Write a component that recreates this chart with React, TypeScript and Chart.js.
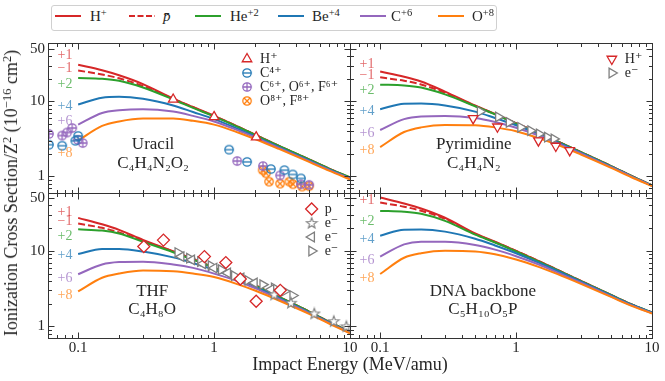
import React, { useEffect, useRef } from 'react';
import { Chart, registerables } from 'chart.js';
import { drawPoint } from 'chart.js/helpers';

Chart.register(...registerables);

const FONT = "'Liberation Serif', 'DejaVu Serif', serif";
const TEXT = '#262626';

// ---------------- data ----------------
// Impact energies (MeV/amu) at which the model curves are sampled
const energies = [0.1, 0.15, 0.2, 0.3, 0.5, 0.7, 1, 1.5, 2, 3, 5, 7, 10];

const legendBase = ['H', 'p̄', 'He', 'Be', 'C', 'O'];
const legendSup = ['+', '', '+2', '+4', '+6', '+8'];
const seriesColors = ['#d62728', '#d62728', '#2ca02c', '#1f77b4', '#9467bd', '#ff7f0e'];
const chargeLabels = ['+1', '−1', '+2', '+4', '+6', '+8'];

const xTickValues = [0.1, 1, 10];
const yTickValues = [1, 10, 50];

// Uracil
const uracilHp = [30.7, 26.0, 22.3, 17.0, 10.9, 8.4, 6.4, 4.6, 3.6, 2.55, 1.68, 1.27, 0.96];
const uracilPbar = [25.8, 22.8, 20.3, 16.0, 10.8, 8.35, 6.4, 4.6, 3.6, 2.55, 1.68, 1.27, 0.96];
const uracilHe = [20.5, 20.0, 18.8, 15.3, 10.6, 8.2, 6.3, 4.55, 3.58, 2.55, 1.68, 1.27, 0.97];
const uracilBe = [9.1, 11.2, 11.5, 10.8, 8.8, 7.2, 5.8, 4.3, 3.42, 2.45, 1.63, 1.24, 0.94];
const uracilC = [4.9, 7.0, 7.6, 7.85, 7.3, 6.4, 5.4, 4.1, 3.3, 2.4, 1.6, 1.22, 0.93];
const uracilO = [3.0, 4.7, 5.4, 5.9, 5.9, 5.5, 4.9, 3.85, 3.15, 2.32, 1.56, 1.19, 0.91];

const uracilExpHpE = [0.5, 1.0, 2.04];
const uracilExpHpV = [10.6, 6.2, 3.33];
const uracilExpC4E = [0.061, 0.0763, 0.0953, 0.1, 1.29, 1.75, 2.62, 3.29, 3.79, 4.36];
const uracilExpC4V = [2.64, 2.56, 2.98, 3.46, 2.27, 1.56, 1.25, 1.21, 1.06, 0.94];
const uracilExpC6E = [0.061, 0.0763, 0.083, 0.0904, 0.0995, 0.108, 1.48, 2.29, 3.06, 4.36, 5.0];
const uracilExpC6V = [3.68, 3.5, 3.85, 4.41, 3.07, 2.78, 1.6, 1.37, 1.03, 0.785, 0.77];
const uracilExpO8E = [2.28, 2.41, 2.54, 3.06, 3.58, 3.81, 4.44, 5.0];
const uracilExpO8V = [1.21, 1.1, 0.85, 0.8, 0.85, 0.785, 0.73, 0.74];

// Pyrimidine
const pyrHp = [25.0, 21.3, 18.4, 13.5, 8.8, 6.8, 5.1, 3.75, 2.95, 2.1, 1.37, 1.02, 0.76];
const pyrPbar = [20.9, 18.8, 16.8, 13.0, 8.7, 6.75, 5.1, 3.75, 2.95, 2.1, 1.37, 1.02, 0.76];
const pyrHe = [16.7, 16.3, 15.3, 12.4, 8.6, 6.7, 5.05, 3.72, 2.94, 2.1, 1.37, 1.02, 0.76];
const pyrBe = [7.85, 9.3, 9.35, 8.8, 7.3, 6.0, 4.8, 3.6, 2.87, 2.06, 1.35, 1.01, 0.75];
const pyrC = [4.15, 5.8, 6.3, 6.4, 6.0, 5.3, 4.45, 3.45, 2.78, 2.02, 1.33, 1.0, 0.75];
const pyrO = [2.46, 3.9, 4.5, 4.85, 4.8, 4.5, 4.0, 3.2, 2.65, 1.95, 1.3, 0.98, 0.74];

const pyrExpHpE = [0.483, 0.729, 1.46, 1.96, 2.48];
const pyrExpHpV = [5.92, 4.59, 3.0, 2.54, 2.22];
const pyrExpElE = [0.544, 0.741, 0.888, 1.08, 1.28, 1.48, 1.7, 1.9];
const pyrExpElV = [7.32, 6.21, 5.25, 4.51, 4.07, 3.68, 3.33, 3.16];

// THF
const thfHp = [27.4, 22.5, 19.0, 14.0, 9.9, 7.8, 6.0, 4.4, 3.5, 2.45, 1.57, 1.15, 0.84];
const thfPbar = [23.1, 20.2, 17.6, 13.6, 9.8, 7.75, 6.0, 4.4, 3.5, 2.45, 1.57, 1.15, 0.84];
const thfHe = [19.3, 18.6, 17.0, 13.2, 9.6, 7.65, 5.95, 4.38, 3.48, 2.45, 1.57, 1.15, 0.84];
const thfBe = [9.1, 10.6, 10.6, 9.8, 8.2, 6.9, 5.6, 4.2, 3.35, 2.38, 1.53, 1.13, 0.83];
const thfC = [4.9, 6.6, 7.1, 7.2, 6.6, 5.95, 5.0, 3.95, 3.2, 2.3, 1.5, 1.11, 0.82];
const thfO = [2.9, 4.4, 5.0, 5.5, 5.35, 5.0, 4.5, 3.6, 2.98, 2.2, 1.46, 1.09, 0.81];

const thfExpPE = [0.304, 0.424, 0.849, 1.22, 1.56, 2.04, 3.07];
const thfExpPV = [11.4, 13.9, 8.4, 7.0, 4.24, 2.15, 3.0];
const thfExpStarE = [2.77, 3.68, 5.46, 7.6, 9.4];
const thfExpStarV = [2.64, 2.05, 1.48, 1.17, 1.0];
const thfExpLeftE = [0.572, 0.685, 0.826, 1.0, 1.26, 1.58, 1.98, 2.62];
const thfExpLeftV = [8.4, 7.6, 6.74, 5.92, 5.09, 4.37, 3.76, 3.07];
const thfExpRightE = [0.541, 0.659, 0.794, 0.95, 1.13, 1.41, 1.77, 2.28, 2.77, 3.29, 3.79];
const thfExpRightV = [9.5, 8.0, 7.2, 6.35, 5.62, 4.69, 4.06, 3.57, 3.23, 2.92, 2.56];

// DNA backbone
const dnaHp = [50.9, 42.5, 36.5, 27.5, 17.0, 13.2, 10.0, 7.2, 5.65, 4.0, 2.6, 1.97, 1.52];
const dnaPbar = [43.7, 38.5, 34.0, 26.5, 16.8, 13.1, 10.0, 7.2, 5.65, 4.0, 2.6, 1.97, 1.52];
const dnaHe = [33.9, 33.0, 31.0, 25.0, 16.4, 12.9, 9.8, 7.1, 5.6, 3.98, 2.6, 1.97, 1.53];
const dnaBe = [15.9, 19.1, 19.2, 18.0, 14.5, 11.8, 9.3, 6.85, 5.45, 3.9, 2.56, 1.95, 1.52];
const dnaC = [8.4, 12.2, 13.2, 13.2, 12.0, 10.4, 8.5, 6.5, 5.2, 3.78, 2.5, 1.91, 1.5];
const dnaO = [4.93, 8.1, 9.3, 10.0, 9.8, 9.0, 7.7, 6.05, 4.95, 3.65, 2.45, 1.88, 1.48];

// ---------------- marker glyphs ----------------
function circleGlyph(color: string, kind: 'minus' | 'plus' | 'x') {
  const s = 12;
  const c = document.createElement('canvas');
  c.width = s; c.height = s;
  const g = c.getContext('2d')!;
  const r = 4.2, cx = 6, cy = 6;
  g.strokeStyle = color; g.lineWidth = 1.3;
  g.beginPath(); g.arc(cx, cy, r, 0, Math.PI * 2); g.stroke();
  g.beginPath();
  if (kind === 'minus' || kind === 'plus') { g.moveTo(cx - r, cy); g.lineTo(cx + r, cy); }
  if (kind === 'plus') { g.moveTo(cx, cy - r); g.lineTo(cx, cy + r); }
  if (kind === 'x') {
    const d = r * Math.SQRT1_2;
    g.moveTo(cx - d, cy - d); g.lineTo(cx + d, cy + d);
    g.moveTo(cx - d, cy + d); g.lineTo(cx + d, cy - d);
  }
  g.stroke();
  return c;
}
function starGlyph(color: string) {
  const s = 14;
  const c = document.createElement('canvas');
  c.width = s; c.height = s;
  const g = c.getContext('2d')!;
  const cx = 7, cy = 7.4, ro = 5.6, ri = 2.3;
  g.beginPath();
  for (let k = 0; k < 10; k++) {
    const r = k % 2 === 0 ? ro : ri;
    const a = -Math.PI / 2 + (k * Math.PI) / 5;
    const px = cx + r * Math.cos(a), py = cy + r * Math.sin(a);
    if (k === 0) g.moveTo(px, py); else g.lineTo(px, py);
  }
  g.closePath();
  g.fillStyle = '#fff'; g.fill();
  g.strokeStyle = color; g.lineWidth = 1.1; g.stroke();
  return c;
}

const GRAY = '#7f7f7f';

type Marker = { label: string; e: number[]; v: number[]; color: string; style: any; radius: number; rotation?: number };
type Spec = {
  curves: number[][];
  markers: Marker[];
  yMin: number; yMax: number;
  showX: boolean; showY: boolean;
  chargeY: number[]; chargeText: string[];
  title: string[]; titleX: number;
  legendX: number;
  padding: { left: number; right: number; top: number; bottom: number };
};

function makeDecor(spec: Spec) {
  return {
    id: 'decor',
    afterDraw(chart: any) {
      const { ctx, chartArea: a } = chart;
      const xs = chart.scales.x, ys = chart.scales.y;
      const L = Math.round(a.left) + 0.5, R = Math.round(a.right) + 0.5;
      const T = Math.round(a.top) + 0.5, B = Math.round(a.bottom) + 0.5;
      ctx.save();
      ctx.strokeStyle = '#333';
      ctx.lineWidth = 1;
      ctx.beginPath();
      for (let d = -2; d <= 1; d++) {
        for (let m = 1; m <= 9; m++) {
          const v = m * Math.pow(10, d);
          if (v < xs.min * 0.999 || v > xs.max * 1.001) continue;
          const len = m === 1 ? 6 : 3.5;
          const px = Math.round(xs.getPixelForValue(v)) + 0.5;
          ctx.moveTo(px, B); ctx.lineTo(px, B - len);
          ctx.moveTo(px, T); ctx.lineTo(px, T + len);
        }
      }
      for (let d = -1; d <= 1; d++) {
        for (let m = 1; m <= 9; m++) {
          const v = m * Math.pow(10, d);
          if (v < ys.min || v > ys.max) continue;
          const major = m === 1 || v === 50;
          const len = major ? 6 : 3.5;
          const py = Math.round(ys.getPixelForValue(v)) + 0.5;
          ctx.moveTo(L, py); ctx.lineTo(L + len, py);
          ctx.moveTo(R, py); ctx.lineTo(R - len, py);
        }
      }
      ctx.stroke();
      ctx.strokeRect(L, T, R - L, B - T);

      ctx.font = `14px ${FONT}`;
      ctx.textAlign = 'center';
      ctx.textBaseline = 'middle';
      ctx.globalAlpha = 0.7;
      spec.chargeText.forEach((t, i) => {
        if (!t) return;
        ctx.fillStyle = seriesColors[i];
        ctx.fillText(t, xs.getPixelForValue(0.08), ys.getPixelForValue(spec.chargeY[i]));
      });
      ctx.globalAlpha = 1;

      const w = a.right - a.left, h = a.bottom - a.top;
      ctx.fillStyle = TEXT;
      ctx.font = `17px ${FONT}`;
      ctx.fillText(spec.title[0], a.left + spec.titleX * w, a.top + 0.68 * h);
      ctx.fillText(spec.title[1], a.left + spec.titleX * w, a.top + 0.805 * h);

      spec.markers.forEach((mk, k) => {
        const x = a.left + spec.legendX * w;
        const y = a.top + 16 + k * 14;
        ctx.fillStyle = '#fff';
        ctx.strokeStyle = mk.color;
        ctx.lineWidth = 1.3;
        drawPoint(ctx, { pointStyle: mk.style, radius: mk.radius, rotation: mk.rotation || 0, borderWidth: 1.3 }, x, y);
        ctx.fillStyle = TEXT;
        ctx.font = `14px ${FONT}`;
        ctx.textAlign = 'left';
        ctx.fillText(mk.label, x + 13, y);
      });
      ctx.restore();
    },
  };
}

function buildConfig(spec: Spec): any {
  const datasets: any[] = [];
  spec.markers.forEach((mk) => {
    datasets.push({
      label: mk.label,
      data: mk.e.map((e, j) => ({ x: e, y: mk.v[j] })),
      showLine: false,
      pointStyle: mk.style,
      pointRadius: mk.radius,
      pointRotation: mk.rotation || 0,
      pointBackgroundColor: '#fff',
      pointBorderColor: mk.color,
      pointBorderWidth: 1.3,
      borderColor: mk.color,
      order: 0,
    });
  });
  spec.curves.forEach((vals, i) => {
    datasets.push({
      label: legendBase[i] + legendSup[i],
      data: energies.map((e, j) => ({ x: e, y: vals[j] })),
      borderColor: seriesColors[i],
      borderWidth: 2,
      borderDash: i === 1 ? [7, 3] : [],
      pointRadius: 0,
      cubicInterpolationMode: 'monotone',
      fill: false,
      order: 10 - i,
    });
  });
  const tickFont = { family: FONT, size: 15 };
  return {
    type: 'line',
    data: { datasets },
    options: {
      animation: false,
      responsive: false,
      events: [],
      layout: { padding: spec.padding },
      plugins: { legend: { display: false }, tooltip: { enabled: false } },
      scales: {
        x: {
          type: 'logarithmic',
          min: 0.06,
          max: 10,
          display: spec.showX,
          grid: { display: false, drawTicks: false },
          border: { display: false },
          ticks: {
            font: tickFont, color: TEXT, padding: 1, autoSkip: false, maxRotation: 0, minRotation: 0,
            callback: (v: number) => (Math.abs(v - 0.1) < 1e-9 ? '0.1' : String(Math.round(v))),
          },
          afterBuildTicks: (s: any) => { s.ticks = xTickValues.map((v) => ({ value: v })); },
          afterFit: (s: any) => {
            s.paddingLeft = 0; s.paddingRight = 0;
            if (spec.showX) s.height = 30;
          },
        },
        y: {
          type: 'logarithmic',
          min: spec.yMin,
          max: spec.yMax,
          display: spec.showY,
          grid: { display: false, drawTicks: false },
          border: { display: false },
          ticks: {
            font: tickFont, color: TEXT, padding: 3, autoSkip: false,
            callback: (v: number) => String(v),
          },
          afterBuildTicks: (s: any) => { s.ticks = yTickValues.map((v) => ({ value: v })); },
          afterFit: (s: any) => {
            s.paddingTop = 0; s.paddingBottom = 0;
            if (spec.showY) s.width = 48;
          },
        },
      },
    },
    plugins: [makeDecor(spec)],
  };
}

function Panel(props: { spec: () => Spec; left: number; top: number; width: number; height: number }) {
  const ref = useRef<HTMLCanvasElement>(null);
  useEffect(() => {
    const chart = new Chart(ref.current!, buildConfig(props.spec()));
    return () => chart.destroy();
  }, []);
  return (
    <canvas
      ref={ref}
      width={props.width}
      height={props.height}
      style={{ position: 'absolute', left: props.left, top: props.top, width: props.width, height: props.height }}
    />
  );
}

const uracilSpec = (): Spec => ({
  curves: [uracilHp, uracilPbar, uracilHe, uracilBe, uracilC, uracilO],
  markers: [
    { label: 'H⁺', e: uracilExpHpE, v: uracilExpHpV, color: '#d62728', style: 'triangle', radius: 5.5 },
    { label: 'C⁴⁺', e: uracilExpC4E, v: uracilExpC4V, color: '#1f77b4', style: circleGlyph('#1f77b4', 'minus'), radius: 5 },
    { label: 'C⁶⁺, O⁶⁺, F⁶⁺', e: uracilExpC6E, v: uracilExpC6V, color: '#9467bd', style: circleGlyph('#9467bd', 'plus'), radius: 5 },
    { label: 'O⁸⁺, F⁸⁺', e: uracilExpO8E, v: uracilExpO8V, color: '#ff7f0e', style: circleGlyph('#ff7f0e', 'x'), radius: 5 },
  ],
  yMin: 0.635, yMax: 60,
  showX: false, showY: true,
  chargeY: [40.6, 27.7, 16.7, 8.67, 5.4, 2.05],
  chargeText: chargeLabels,
  title: ['Uracil', 'C₄H₄N₂O₂'], titleX: 0.348,
  legendX: 0.659,
  padding: { left: 0, right: 10, top: 10, bottom: 10 },
});

const pyrSpec = (): Spec => ({
  curves: [pyrHp, pyrPbar, pyrHe, pyrBe, pyrC, pyrO],
  markers: [
    { label: 'H⁺', e: pyrExpHpE, v: pyrExpHpV, color: '#d62728', style: 'triangle', radius: 5.5, rotation: 180 },
    { label: 'e⁻', e: pyrExpElE, v: pyrExpElV, color: GRAY, style: 'triangle', radius: 5.5, rotation: 90 },
  ],
  yMin: 0.635, yMax: 60,
  showX: false, showY: false,
  chargeY: [30.7, 22.2, 14.0, 7.3, 3.76, 2.22],
  chargeText: chargeLabels,
  title: ['Pyrimidine', 'C₄H₄N₂'], titleX: 0.41,
  legendX: 0.867,
  padding: { left: 10, right: 13, top: 10, bottom: 10 },
});

const thfSpec = (): Spec => ({
  curves: [thfHp, thfPbar, thfHe, thfBe, thfC, thfO],
  markers: [
    { label: 'p', e: thfExpPE, v: thfExpPV, color: '#d62728', style: 'rectRot', radius: 6 },
    { label: 'e⁻', e: thfExpStarE, v: thfExpStarV, color: GRAY, style: starGlyph(GRAY), radius: 5 },
    { label: 'e⁻', e: thfExpLeftE, v: thfExpLeftV, color: GRAY, style: 'triangle', radius: 5.5, rotation: 270 },
    { label: 'e⁻', e: thfExpRightE, v: thfExpRightV, color: GRAY, style: 'triangle', radius: 5.5, rotation: 90 },
  ],
  yMin: 0.716, yMax: 58.5,
  showX: true, showY: true,
  chargeY: [32.9, 24.3, 15.7, 8.6, 4.37, 2.56],
  chargeText: chargeLabels,
  title: ['THF', 'C₄H₈O'], titleX: 0.345,
  legendX: 0.873,
  padding: { left: 0, right: 10, top: 10, bottom: 13 },
});

const dnaSpec = (): Spec => ({
  curves: [dnaHp, dnaPbar, dnaHe, dnaBe, dnaC, dnaO],
  markers: [],
  yMin: 0.716, yMax: 58.5,
  showX: true, showY: false,
  chargeY: [46.9, 0, 24.3, 14.3, 7.6, 4.37],
  chargeText: ['+1', '', '+2', '+4', '+6', '+8'],
  title: ['DNA backbone', 'C₅H₁₀O₅P'], titleX: 0.44,
  legendX: 0.87,
  padding: { left: 10, right: 13, top: 10, bottom: 13 },
});

const legendSwatchX = [55, 129, 195, 278, 360, 438];
const legendTextX = [90, 163, 230, 312, 391, 472];

const supStyle: React.CSSProperties = { fontSize: '0.7em', verticalAlign: '0.5em', lineHeight: 0 };

export default function App() {
  return (
    <div style={{ position: 'absolute', left: 0, top: 0, width: 665, height: 381, background: '#fff', overflow: 'hidden', fontFamily: FONT, color: TEXT }}>
      <Panel spec={uracilSpec} left={0} top={33} width={360} height={170} />
      <Panel spec={pyrSpec} left={340} top={33} width={325} height={170} />
      <Panel spec={thfSpec} left={0} top={183} width={360} height={198} />
      <Panel spec={dnaSpec} left={340} top={183} width={325} height={198} />

      <div style={{ position: 'absolute', left: 51, top: 5, width: 444, height: 24, border: '1px solid #d0d0d0', borderRadius: 3, background: '#fff' }} />
      {legendBase.map((b, i) => (
        <React.Fragment key={i}>
          <svg style={{ position: 'absolute', left: legendSwatchX[i], top: 11 }} width={26} height={10}>
            <line x1={0} y1={5} x2={26} y2={5} stroke={seriesColors[i]} strokeWidth={2} strokeDasharray={i === 1 ? '6 2.5' : undefined} />
          </svg>
          <span style={{ position: 'absolute', left: legendTextX[i], top: 7, fontSize: 15, lineHeight: '18px', whiteSpace: 'nowrap', fontStyle: i === 1 ? 'italic' : 'normal' }}>
            {b}
            {legendSup[i] ? <sup style={supStyle}>{legendSup[i]}</sup> : null}
          </span>
        </React.Fragment>
      ))}

      <div style={{ position: 'absolute', left: 11, top: 193, transform: 'translate(-50%, -50%) rotate(-90deg)', fontSize: 18, whiteSpace: 'nowrap', lineHeight: '20px' }}>
        Ionization Cross Section/Z<sup style={supStyle}>2</sup> (10<sup style={supStyle}>−16</sup> cm<sup style={supStyle}>2</sup>)
      </div>
      <div style={{ position: 'absolute', left: 350, top: 364, transform: 'translate(-50%, -50%)', fontSize: 18, whiteSpace: 'nowrap', lineHeight: '20px' }}>
        Impact Energy (MeV/amu)
      </div>
    </div>
  );
}
